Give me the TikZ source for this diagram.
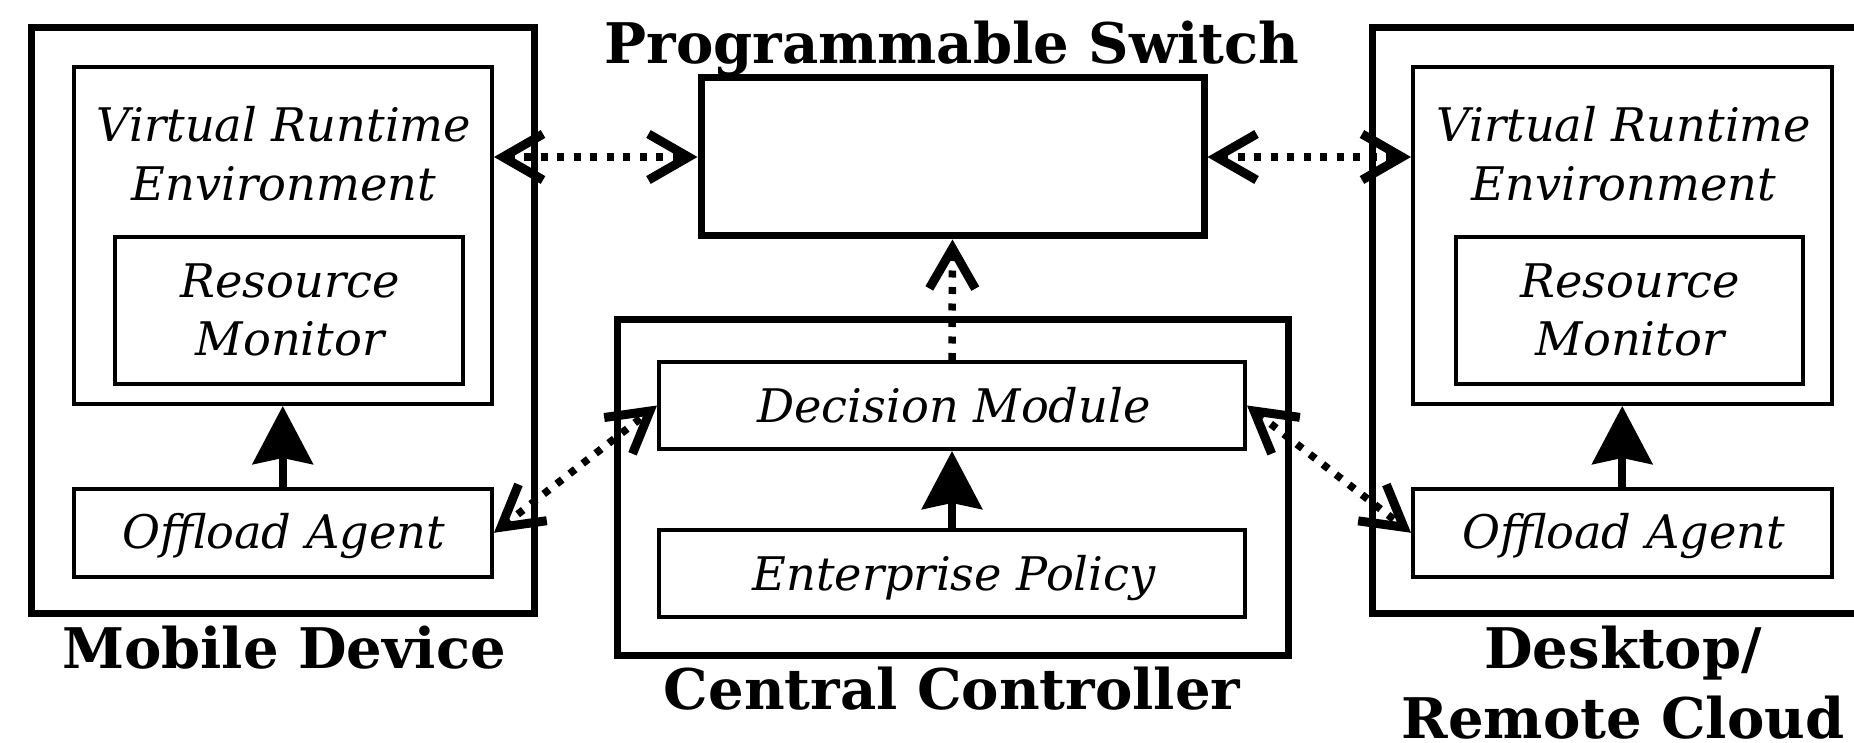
\documentclass[tikz,border=0pt]{standalone}
\usepackage{fontspec}
\setmainfont{DejaVu Serif}
\usetikzlibrary{arrows.meta}
\begin{document}
\begin{tikzpicture}[x=1pt,y=-1pt,
  outerbox/.style={draw,line width=7pt,inner sep=0pt},
  innerbox/.style={draw,line width=4pt,inner sep=0pt},
  itext/.style={font=\fontsize{46.3}{55}\selectfont\itshape,anchor=base,inner sep=0pt},
  btext/.style={font=\fontsize{56}{66}\selectfont\bfseries,anchor=base,inner sep=0pt},
  solidarrow/.style={line width=8pt,-{Stealth[length=58pt,width=60pt,inset=6pt]}},
  dotarrow/.style={line width=7.5pt,dash pattern=on 7pt off 9.5pt,
     {Straight Barb[length=40pt,width=46pt,line width=9pt]}-{Straight Barb[length=40pt,width=46pt,line width=9pt]}},
  dotarrowone/.style={line width=7.5pt,dash pattern=on 7pt off 9.5pt,
     -{Straight Barb[length=40pt,width=46pt,line width=9pt]}}]
\useasboundingbox (0,0) rectangle (1854,743);
\clip (0,0) rectangle (1854,743);
% ---------- Mobile device ----------
\node[outerbox,minimum width=503pt,minimum height=585pt] (mob) at (282.5,320.5) {};
\node[innerbox,minimum width=418.5pt,minimum height=336.5pt] (lvre) at (282.75,235.75) {};
\node[innerbox,minimum width=348pt,minimum height=147pt] (lrm) at (289,310.5) {};
\node[innerbox,minimum width=418.5pt,minimum height=88.5pt] (loa) at (282.75,532.75) {};
\node[itext] (lvret1) at (284,142) {Virtual Runtime};
\node[itext] (lvret2) at (284,201) {Environment};
\node[itext] (lrmt1) at (290,297) {Resource};
\node[itext] (lrmt2) at (290,355) {Monitor};
\node[itext] (loat) at (284,548) {Offload Agent};
\node[btext] (mobt) at (284,668) {Mobile Device};
% ---------- Programmable switch ----------
\node[outerbox,minimum width=503pt,minimum height=158pt] (sw) at (952.5,157) {};
\node[btext] (swt) at (952,64) {Programmable Switch};
% ---------- Central controller ----------
\node[outerbox,minimum width=671pt,minimum height=336pt] (cc) at (952.5,487) {};
\node[innerbox,minimum width=586pt,minimum height=87pt] (dm) at (952,405.5) {};
\node[innerbox,minimum width=586pt,minimum height=87pt] (ep) at (952,573.5) {};
\node[itext] (dmt) at (954,422) {Decision Module};
\node[itext] (ept) at (954,590) {Enterprise Policy};
\node[btext] (cct) at (952,709) {Central Controller};
% ---------- Desktop / remote cloud ----------
\node[outerbox,minimum width=500pt,minimum height=585pt] (rem) at (1622,320.5) {};
\node[innerbox,minimum width=418.5pt,minimum height=336.5pt] (rvre) at (1622.25,235.75) {};
\node[innerbox,minimum width=347.5pt,minimum height=147pt] (rrm) at (1629.25,310.5) {};
\node[innerbox,minimum width=418.5pt,minimum height=88.5pt] (roa) at (1622.25,532.75) {};
\node[itext] (rvret1) at (1624,142) {Virtual Runtime};
\node[itext] (rvret2) at (1624,201) {Environment};
\node[itext] (rrmt1) at (1630,297) {Resource};
\node[itext] (rrmt2) at (1630,355) {Monitor};
\node[itext] (roat) at (1624,548) {Offload Agent};
\node[btext] (remt1) at (1623,668) {Desktop/};
\node[btext] (remt2) at (1623,738) {Remote Cloud};
% ---------- connectors ----------
\draw[solidarrow] (loa.north) -- (lvre.south);
\draw[solidarrow] (roa.north) -- (rvre.south);
\draw[solidarrow] (ep.north) -- (dm.south);
\draw[dotarrowone] (dm.north) -- (sw.south);
\draw[dotarrow] (sw.west -| lvre.east) -- (sw.west);
\draw[dotarrow] (sw.east) -- (sw.east -| rvre.west);
\draw[dotarrow] (loa.east) -- (dm.west);
\draw[dotarrow] (dm.east) -- (roa.west);
\end{tikzpicture}
\end{document}
